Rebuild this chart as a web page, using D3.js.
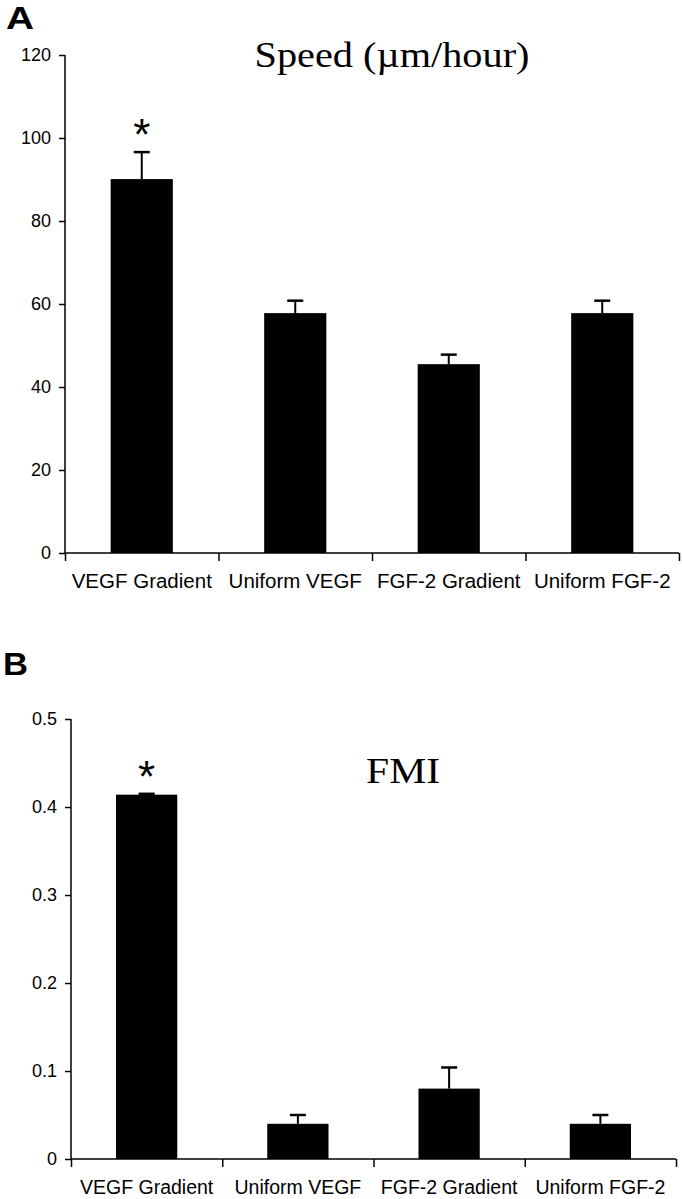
<!DOCTYPE html>
<html>
<head>
<meta charset="utf-8">
<script src="https://cdn.jsdelivr.net/npm/d3@7"></script>
<style>
  body { margin: 0; background: #fff; }
  svg { display: block; }
  .axis path, .axis line { stroke: #000; stroke-width: 1.5; }
  .axis text { fill: #000; font-family: "Liberation Sans", Arial, sans-serif; }
</style>
</head>
<body>
<div id="chart"></div>
<script>
const categories = ["VEGF Gradient", "Uniform VEGF", "FGF-2 Gradient", "Uniform FGF-2"];

// panel A - speed
const speedValues = [90.1, 57.8, 45.5, 57.8];
const speedErrors = [6.5, 3.0, 2.3, 3.0];
const speedTicks = [0, 20, 40, 60, 80, 100, 120];

// panel B - FMI
const fmiValues = [0.414, 0.040, 0.080, 0.040];
const fmiErrors = [0.001, 0.010, 0.024, 0.010];
const fmiTicks = [0, 0.1, 0.2, 0.3, 0.4, 0.5];

const width = 682, height = 1199;

const svg = d3.select("#chart").append("svg")
  .attr("width", width)
  .attr("height", height);

function drawPanel(opt) {
  const g = svg.append("g");

  const x = d3.scaleBand()
    .domain(categories)
    .range([opt.left, opt.right])
    .padding(0);

  // boundaries for the tick marks (excel style, between categories)
  const xb = d3.scaleLinear().domain([0, categories.length]).range([opt.left, opt.right]);

  const y = d3.scaleLinear()
    .domain([0, d3.max(opt.ticks)])
    .range([opt.bottom, opt.top]);

  const barW = x.bandwidth() * 0.405;

  // bars
  g.selectAll("rect.bar")
    .data(opt.values)
    .enter().append("rect")
    .attr("class", "bar")
    .attr("x", (d, i) => x(categories[i]) + (x.bandwidth() - barW) / 2)
    .attr("y", d => y(d))
    .attr("width", barW)
    .attr("height", d => y(0) - y(d))
    .attr("fill", "#000");

  // error bars (up only)
  const eb = g.selectAll("g.err")
    .data(opt.values)
    .enter().append("g")
    .attr("class", "err")
    .attr("transform", (d, i) => `translate(${x(categories[i]) + x.bandwidth() / 2},0)`);

  eb.append("line")
    .attr("y1", d => y(d))
    .attr("y2", (d, i) => y(d + opt.errors[i]))
    .attr("stroke", "#000")
    .attr("stroke-width", 2);

  eb.append("line")
    .attr("x1", -8).attr("x2", 8)
    .attr("y1", (d, i) => y(d + opt.errors[i]))
    .attr("y2", (d, i) => y(d + opt.errors[i]))
    .attr("stroke", "#000")
    .attr("stroke-width", 2.5);

  // y axis
  g.append("g")
    .attr("class", "axis")
    .attr("transform", `translate(${opt.left},0)`)
    .call(d3.axisLeft(y).tickValues(opt.ticks).tickSize(6).tickPadding(8)
      .tickFormat(opt.fmt))
    .call(a => a.select(".domain").attr("d", `M0,${opt.bottom}V${opt.top}`))
    .selectAll("text")
    .style("font-size", "18px");

  // x axis tick marks
  g.append("g")
    .attr("class", "axis")
    .attr("transform", `translate(0,${opt.bottom})`)
    .call(d3.axisBottom(xb).ticks(categories.length).tickSize(8).tickFormat(""))
    .call(a => a.select(".domain").attr("d", `M${opt.left},0H${opt.right}`));

  // x labels
  g.append("g")
    .attr("class", "axis")
    .attr("transform", `translate(0,${opt.bottom})`)
    .call(d3.axisBottom(x).tickSize(0).tickPadding(opt.labelPad))
    .call(a => a.select(".domain").remove())
    .selectAll("text")
    .style("font-size", opt.labelSize);

  // significance marker
  g.append("text")
    .attr("x", x(categories[0]) + x.bandwidth() / 2)
    .attr("y", y(opt.values[0] + opt.errors[0]) - opt.starGap)
    .attr("text-anchor", "middle")
    .style("font-family", "Liberation Sans, Arial, sans-serif")
    .style("font-size", "44px")
    .text("*");

  // title
  g.append("text")
    .attr("x", opt.titleX)
    .attr("y", opt.titleY)
    .attr("text-anchor", "middle")
    .attr("textLength", opt.titleLen)
    .attr("lengthAdjust", "spacingAndGlyphs")
    .style("font-family", "Liberation Serif, Times New Roman, serif")
    .style("font-size", "36px")
    .text(opt.title);

  // panel letter
  g.append("text")
    .attr("x", opt.letterX)
    .attr("y", opt.letterY)
    .attr("textLength", opt.letterLen)
    .attr("lengthAdjust", "spacingAndGlyphs")
    .style("font-family", "Liberation Sans, Arial, sans-serif")
    .style("font-weight", "bold")
    .style("font-size", "31px")
    .text(opt.letter);
}

drawPanel({
  values: speedValues, errors: speedErrors, ticks: speedTicks,
  fmt: d3.format("d"),
  left: 65, right: 679, top: 55, bottom: 553,
  labelPad: 20, labelSize: "20.5px", starGap: 2,
  title: "Speed (\u00b5m/hour)", titleX: 392, titleY: 67, titleLen: 275,
  letter: "A", letterX: 6, letterY: 29, letterLen: 28
});

drawPanel({
  values: fmiValues, errors: fmiErrors, ticks: fmiTicks,
  fmt: d => d === 0 ? "0" : d.toFixed(1),
  left: 71, right: 676, top: 719, bottom: 1159,
  labelPad: 21, labelSize: "19.5px", starGap: 2,
  title: "FMI", titleX: 403, titleY: 783, titleLen: 74,
  letter: "B", letterX: 3, letterY: 675, letterLen: 25
});
</script>
</body>
</html>
